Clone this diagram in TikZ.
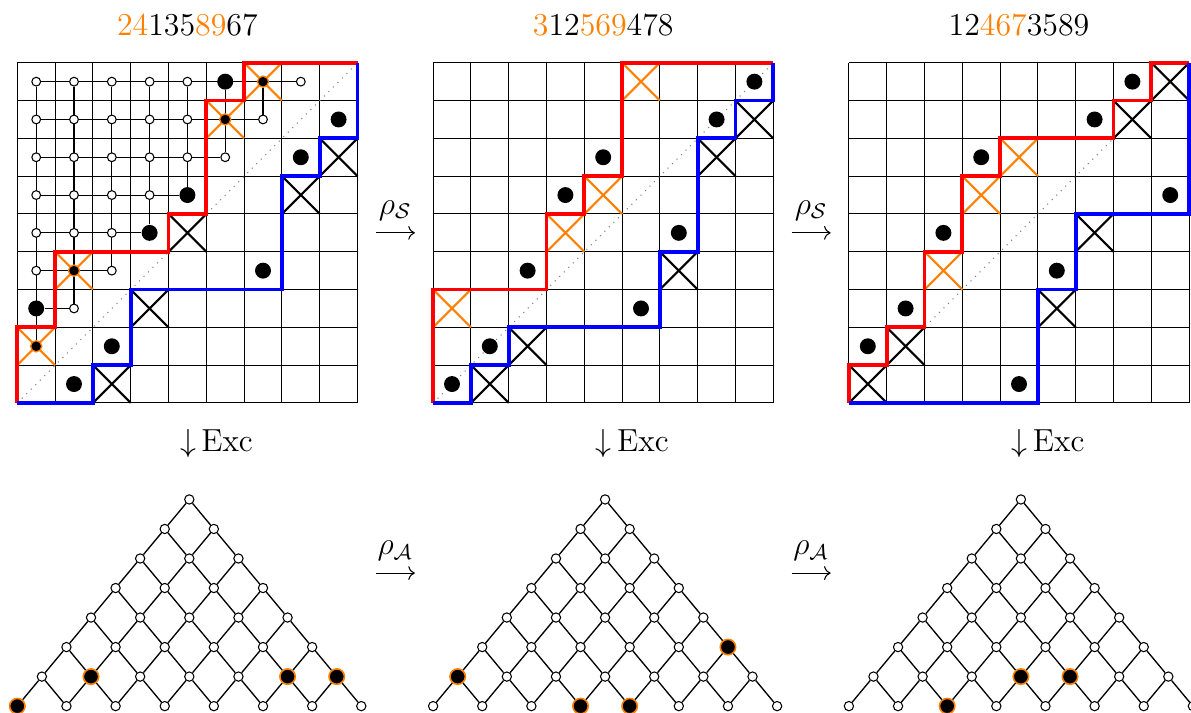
\documentclass[tikz,border=0pt]{standalone}
\usetikzlibrary{arrows.meta, backgrounds}
\tikzset{
    >=To,
    % Grid
    gridLine/.style={draw=black, thin, step=0.5cm},
    diagLine/.style={gray, dotted, thin},
    crossBlack/.style={black, line width=0.8pt},
    crossOrange/.style={orange, line width=0.8pt},
    upPath/.style={red, line width=1.4pt},
    lowPath/.style={blue, line width=1.4pt},
    rotheLine/.style={black, thin},
    % Dots
    openDot/.style={circle, draw=black, fill=white, thin, inner sep=0pt, minimum size=3.3pt},
    bigDot/.style={circle, draw=none, fill=black, inner sep=0pt, minimum size=6pt},
    markDot/.style={circle, draw=orange, fill=black, line width=0.5pt, inner sep=0pt, minimum size=4.2pt},
    % Root posets
    rootDot/.style={circle, draw=black, fill=white, thin, inner sep=0pt, minimum size=3.5pt},
    rootMark/.style={circle, draw=orange, fill=black, line width=0.6pt, inner sep=0pt, minimum size=5.8pt},
    coverLine/.style={black, line width=0.5pt},
    % Labels
    permLbl/.style={font=\large, inner sep=0pt},
    lbl/.style={font=\large, inner sep=1pt},
    slot/.style={inner sep=0pt, minimum width=14.3pt, minimum height=0pt},
    flow/.style={->, thin}
}
% marked cells and roots
\tikzset{
    A-1-3/.style=bigDot, A-4-5/.style=bigDot, A-5-6/.style=bigDot, A-6-9/.style=bigDot,
    A-1-2/.style=markDot, A-2-4/.style=markDot, A-6-8/.style=markDot, A-7-9/.style=markDot,
    tA-1-2/.style=rootMark, tA-2-4/.style=rootMark, tA-6-8/.style=rootMark, tA-7-9/.style=rootMark,
    tB-1-3/.style=rootMark, tB-4-5/.style=rootMark, tB-5-6/.style=rootMark, tB-6-9/.style=rootMark,
    tC-3-4/.style=rootMark, tC-4-6/.style=rootMark, tC-5-7/.style=rootMark
}

\begin{document}
\begin{tikzpicture}[x=0.5cm, y=0.5cm]
\useasboundingbox (-0.458,-8.2) rectangle (31.05,10.66);

% ---- 241358967
\node[permLbl] (pA) at (4.5,10) {\textcolor{orange}{24}135\textcolor{orange}{89}67};
\foreach \ry in {2,...,9} {
  \pgfmathtruncatemacro\last{\ry-1}
  \foreach \cx in {1,...,\last}
    \node[openDot, A-\cx-\ry/.try] (A-\cx-\ry) at (\cx-0.5,\ry-0.5) {};
}
\foreach \cx/\ry in {9/8, 8/7, 7/4, 3/2, 2/1}
  \node[bigDot] (A-\cx-\ry) at (\cx-0.5,\ry-0.5) {};
\begin{scope}[on background layer]
  \draw[gridLine] (0,0) grid (9,9);
  \draw[diagLine] (0,0) -- (9,9);
  \foreach \cx/\ry in {9/7, 8/6, 5/5, 4/3, 3/1}
    \draw[crossBlack] (\cx-1,\ry-1) -- (\cx,\ry) (\cx-1,\ry) -- (\cx,\ry-1);
  \foreach \cx/\ry in {7/9, 6/8, 2/4, 1/2}
    \draw[crossOrange] (\cx-1,\ry-1) -- (\cx,\ry) (\cx-1,\ry) -- (\cx,\ry-1);
  \foreach \ry in {3,...,9} {
    \pgfmathtruncatemacro\last{\ry-1}
    \draw[rotheLine] (A-1-\ry) -- (A-\last-\ry);
  }
  \foreach \cx in {1,...,7} {
    \pgfmathtruncatemacro\first{\cx+1}
    \draw[rotheLine] (A-\cx-9) -- (A-\cx-\first);
  }
  \draw[upPath] (0,0) -- (0,2) -- (1,2) -- (1,4) -- (4,4) -- (4,5) -- (5,5) -- (5,8) -- (6,8) -- (6,9) -- (9,9);
  \draw[lowPath] (0,0) -- (2,0) -- (2,1) -- (3,1) -- (3,3) -- (7,3) -- (7,6) -- (8,6) -- (8,7) -- (9,7) -- (9,9);
\end{scope}

% ---- 312569478
\begin{scope}[shift={(11,0)}]
  \node[permLbl] (pB) at (4.5,10) {\textcolor{orange}{3}12\textcolor{orange}{569}478};
  \foreach \cx/\ry in {9/9, 8/8, 5/7, 4/6, 7/5, 3/4, 6/3, 2/2, 1/1}
    \node[bigDot] (B-\cx-\ry) at (\cx-0.5,\ry-0.5) {};
  \begin{scope}[on background layer]
    \draw[gridLine] (0,0) grid (9,9);
    \draw[diagLine] (0,0) -- (9,9);
    \foreach \cx/\ry in {9/8, 8/7, 7/4, 3/2, 2/1}
      \draw[crossBlack] (\cx-1,\ry-1) -- (\cx,\ry) (\cx-1,\ry) -- (\cx,\ry-1);
    \foreach \cx/\ry in {6/9, 5/6, 4/5, 1/3}
      \draw[crossOrange] (\cx-1,\ry-1) -- (\cx,\ry) (\cx-1,\ry) -- (\cx,\ry-1);
    \draw[upPath] (0,0) -- (0,3) -- (3,3) -- (3,5) -- (4,5) -- (4,6) -- (5,6) -- (5,9) -- (9,9);
    \draw[lowPath] (0,0) -- (1,0) -- (1,1) -- (2,1) -- (2,2) -- (6,2) -- (6,4) -- (7,4) -- (7,7) -- (8,7) -- (8,8) -- (9,8) -- (9,9);
  \end{scope}
\end{scope}

% ---- 124673589
\begin{scope}[shift={(22,0)}]
  \node[permLbl] (pC) at (4.5,10) {12\textcolor{orange}{467}3589};
  \foreach \cx/\ry in {8/9, 7/8, 4/7, 9/6, 3/5, 6/4, 2/3, 1/2, 5/1}
    \node[bigDot] (C-\cx-\ry) at (\cx-0.5,\ry-0.5) {};
  \begin{scope}[on background layer]
    \draw[gridLine] (0,0) grid (9,9);
    \draw[diagLine] (0,0) -- (9,9);
    \foreach \cx/\ry in {9/9, 8/8, 7/5, 6/3, 2/2, 1/1}
      \draw[crossBlack] (\cx-1,\ry-1) -- (\cx,\ry) (\cx-1,\ry) -- (\cx,\ry-1);
    \foreach \cx/\ry in {5/7, 4/6, 3/4}
      \draw[crossOrange] (\cx-1,\ry-1) -- (\cx,\ry) (\cx-1,\ry) -- (\cx,\ry-1);
    \draw[upPath] (0,0) -- (0,1) -- (1,1) -- (1,2) -- (2,2) -- (2,4) -- (3,4) -- (3,6) -- (4,6) -- (4,7) -- (7,7) -- (7,8) -- (8,8) -- (8,9) -- (9,9);
    \draw[lowPath] (0,0) -- (5,0) -- (5,3) -- (6,3) -- (6,5) -- (9,5) -- (9,9);
  \end{scope}
\end{scope}

% ---- maps
\foreach \nm/\xx in {1/10, 2/21} {
  \node[slot] (sS\nm) at (\xx,4.5) {};
  \draw[flow] (sS\nm.west) -- node[lbl, above=3.5pt] (rS\nm) {$\rho_{\mathcal{S}}$} (sS\nm.east);
  \node[slot] (sA\nm) at (\xx,-4.5) {};
  \draw[flow] (sA\nm.west) -- node[lbl, above=3.5pt] (rA\nm) {$\rho_{\mathcal{A}}$} (sA\nm.east);
}
\foreach \tri/\xo in {A/0, B/11, C/22}
  \node[lbl, anchor=west] (exc\tri) at (\xo+4.22,-1.08) {$\downarrow$\,Exc};

% ---- root posets
\foreach \tri/\xo in {A/0, B/11, C/22} {
  \foreach \ra in {1,...,8} {
    \pgfmathtruncatemacro\nxt{\ra+1}
    \foreach \rb in {\nxt,...,9}
      \node[rootDot, t\tri-\ra-\rb/.try] (t\tri-\ra-\rb)
        at ({\xo+(\ra-1)*1.3+(\rb-\ra-1)*0.65}, {-8.02+(\rb-\ra-1)*0.781}) {};
  }
  \foreach \ra in {1,...,8} {
    \pgfmathtruncatemacro\nxt{\ra+1}
    \pgfmathtruncatemacro\prv{\ra-1}
    \foreach \rb in {\nxt,...,9} {
      \pgfmathtruncatemacro\up{\rb+1}
      \ifnum\rb<9 \draw[coverLine] (t\tri-\ra-\rb) -- (t\tri-\ra-\up); \fi
      \ifnum\ra>1 \draw[coverLine] (t\tri-\ra-\rb) -- (t\tri-\prv-\rb); \fi
    }
  }
}
\end{tikzpicture}
\end{document}
